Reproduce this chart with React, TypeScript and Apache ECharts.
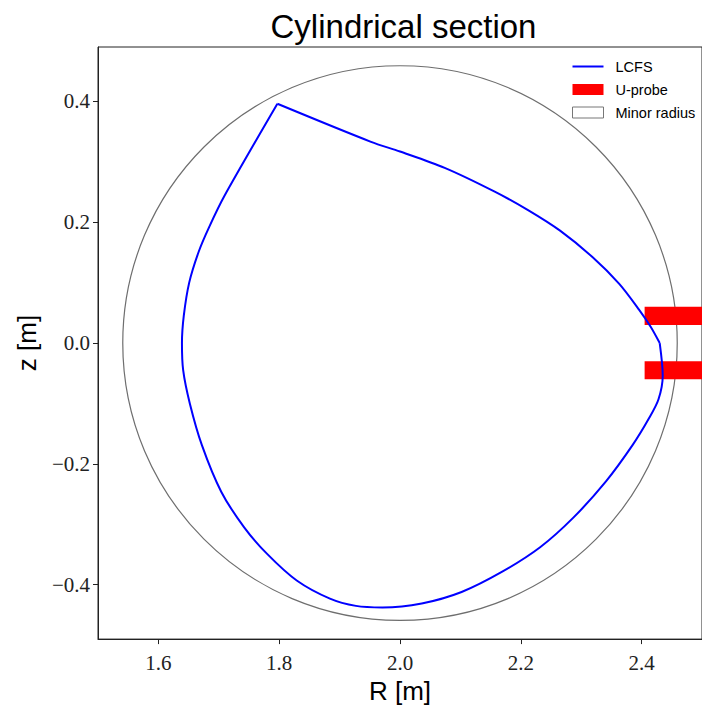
import React, { useEffect, useRef } from "react";
import * as echarts from "echarts";

// LCFS contour (R [m], z [m]), split at its two corners
// upper part: from the top corner clockwise to the outboard corner
const lcfsUpperR = [1.797, 1.952, 2.000, 2.074, 2.156, 2.212, 2.265, 2.319, 2.363, 2.396, 2.415, 2.430];
const lcfsUpperZ = [0.396, 0.333, 0.317, 0.290, 0.251, 0.220, 0.186, 0.142, 0.098, 0.055, 0.027, 0.000];
// lower part: from the outboard corner clockwise back to the top corner
const lcfsLowerR = [2.430, 2.435, 2.428, 2.412, 2.385, 2.341, 2.287, 2.232, 2.170, 2.102, 2.036, 1.971, 1.927, 1.884, 1.829, 1.780, 1.742, 1.704, 1.672, 1.652, 1.641, 1.639, 1.642, 1.651, 1.667, 1.684, 1.709, 1.797];
const lcfsLowerZ = [0.000, -0.054, -0.093, -0.125, -0.169, -0.229, -0.289, -0.338, -0.378, -0.412, -0.431, -0.4375, -0.435, -0.423, -0.393, -0.349, -0.305, -0.246, -0.169, -0.100, -0.045, 0.000, 0.045, 0.100, 0.152, 0.192, 0.243, 0.396];

// U-probe rectangles
const probeRMin = [2.405, 2.405];
const probeRMax = [2.52, 2.52];
const probeZMin = [0.03, -0.06];
const probeZMax = [0.06, -0.03];

// Minor radius circle
const minorCenterR = [2.0];
const minorCenterZ = [0.0];
const minorRadius = [0.459];

// Tick labels
const xTicks = [1.6, 1.8, 2.0, 2.2, 2.4];
const yTicks = [-0.4, -0.2, 0.0, 0.2, 0.4];

const fmt = (v: number) => v.toFixed(1).replace("-", "\u2212");

export default function App() {
  const ref = useRef<HTMLDivElement>(null);
  useEffect(() => {
    if (!ref.current) return;
    const chart = echarts.init(ref.current, null, { renderer: "svg" });
    const sans = "Liberation Sans";
    const serif = "Liberation Serif";
    const upperData = lcfsUpperR.map((r, i) => [r, lcfsUpperZ[i]]);
    const lowerData = lcfsLowerR.map((r, i) => [r, lcfsLowerZ[i]]);
    const probeData = probeRMin.map((r, i) => [r, probeZMin[i], probeRMax[i], probeZMax[i]]);
    const circleData = minorCenterR.map((r, i) => [r, minorCenterZ[i], minorRadius[i]]);
    const lcfsSeries = (data: number[][]) => ({
      name: "LCFS",
      type: "line",
      data,
      z: 3,
      symbol: "none",
      showSymbol: false,
      smooth: 0.3,
      color: "#0000ff",
      lineStyle: { color: "#0000ff", width: 2 },
    });
    chart.setOption({
      animation: false,
      backgroundColor: "#fff",
      title: {
        text: "Cylindrical section",
        left: 403.5,
        top: 10,
        padding: 0,
        textAlign: "center",
        textStyle: { fontFamily: sans, fontSize: 33, fontWeight: "normal", color: "#000" },
      },
      legend: {
        orient: "vertical",
        left: 572,
        top: 59,
        padding: 0,
        itemWidth: 31,
        itemHeight: 11,
        itemGap: 8,
        align: "left",
        textStyle: { fontFamily: sans, fontSize: 14.5, color: "#000", padding: [0, 0, 0, 7] },
        data: [
          { name: "LCFS", icon: "path://M0,0H31V2H0Z", itemStyle: { color: "#0000ff" } },
          { name: "U-probe", icon: "rect", itemStyle: { color: "#ff0000" } },
          { name: "Minor radius", icon: "rect", itemStyle: { color: "#fff", borderColor: "#777", borderWidth: 1 } },
        ],
      },
      grid: { left: 98, top: 47, width: 611, height: 599, show: true, borderColor: "#222", borderWidth: 1, backgroundColor: "transparent" },
      xAxis: {
        type: "value",
        min: 1.5,
        max: 2.5,
        name: "R [m]",
        nameLocation: "middle",
        nameGap: 36,
        nameTextStyle: { fontFamily: sans, fontSize: 26, color: "#000" },
        splitLine: { show: false },
        axisLine: { show: true, onZero: false, lineStyle: { color: "#222", width: 1 } },
        axisTick: { show: true, length: 5, customValues: xTicks, lineStyle: { color: "#222" } },
        axisLabel: { customValues: xTicks, formatter: fmt, margin: 13, fontFamily: serif, fontSize: 21, color: "#222" },
      },
      yAxis: {
        type: "value",
        min: -0.49,
        max: 0.49,
        name: "z [m]",
        nameLocation: "middle",
        nameGap: 58,
        nameTextStyle: { fontFamily: sans, fontSize: 26, color: "#000" },
        splitLine: { show: false },
        axisLine: { show: true, onZero: false, lineStyle: { color: "#222", width: 1 } },
        axisTick: { show: true, length: 5, customValues: yTicks, lineStyle: { color: "#222" } },
        axisLabel: { customValues: yTicks, formatter: fmt, margin: 8, fontFamily: serif, fontSize: 21, color: "#222" },
      },
      series: [
        {
          name: "Minor radius",
          type: "custom",
          data: circleData,
          encode: { x: 0, y: 1 },
          z: 1,
          itemStyle: { color: "#fff", borderColor: "#777" },
          renderItem: (params: any, api: any) => {
            const c = api.coord([api.value(0), api.value(1)]);
            const r = api.value(2);
            const s = api.size([r, r]);
            return {
              type: "ellipse",
              shape: { cx: c[0], cy: c[1], rx: s[0], ry: s[1] },
              style: { fill: "none", stroke: "#6e6e6e", lineWidth: 1.2 },
            };
          },
        },
        {
          name: "U-probe",
          type: "custom",
          data: probeData,
          encode: { x: [0, 2], y: [1, 3] },
          z: 2,
          itemStyle: { color: "#ff0000" },
          renderItem: (params: any, api: any) => {
            const p1 = api.coord([api.value(0), api.value(3)]);
            const p2 = api.coord([api.value(2), api.value(1)]);
            return {
              type: "rect",
              shape: { x: p1[0], y: p1[1], width: p2[0] - p1[0], height: p2[1] - p1[1] },
              style: { fill: "#ff0000" },
            };
          },
        },
        lcfsSeries(upperData),
        lcfsSeries(lowerData),
      ],
    });
    return () => chart.dispose();
  }, []);
  return <div ref={ref} style={{ position: "fixed", left: 0, top: 0, width: 702, height: 709 }} />;
}
